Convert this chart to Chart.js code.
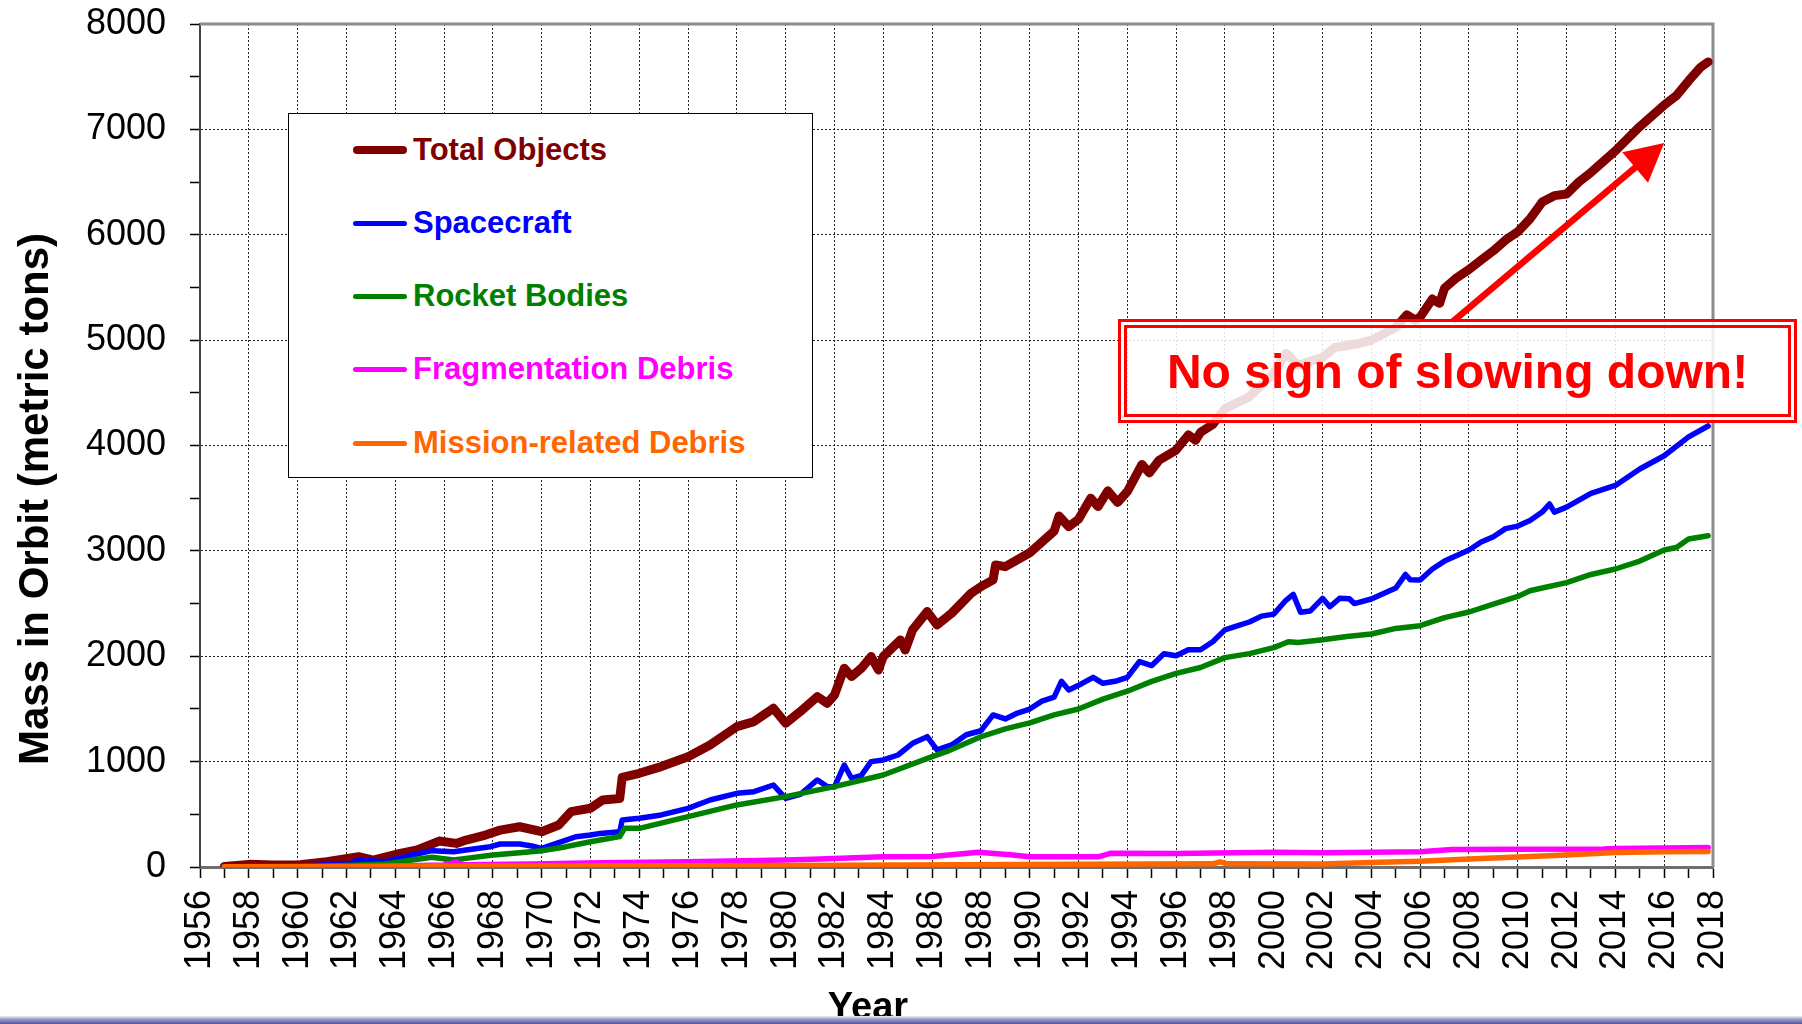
<!DOCTYPE html>
<html>
<head>
<meta charset="utf-8">
<title>Mass in Orbit</title>
<script src="https://cdn.jsdelivr.net/npm/chart.js@4.4.1/dist/chart.umd.min.js"></script>
<style>
  html, body { margin: 0; padding: 0; background: #fff; overflow: hidden; }
  #wrap { position: relative; width: 1802px; height: 1024px; font-family: "Liberation Sans", Arial, sans-serif; }
  #chart { position: absolute; left: 0; top: 0; }
  #legend {
    position: absolute; left: 288px; top: 113px; width: 525px; height: 365px;
    box-sizing: border-box; border: 1.5px solid #000; background: #fff;
  }
  .lg-item { position: absolute; left: 64px; height: 40px; display: flex; align-items: center; }
  .lg-line { width: 54px; border-radius: 4px; }
  .lg-text { margin-left: 6px; font-weight: bold; font-size: 31px; white-space: nowrap; }
  #note {
    position: absolute; left: 1118px; top: 319px; width: 679px; height: 104px;
    box-sizing: border-box; border: 3px solid #ff0000; padding: 3px;
    background: rgba(255, 255, 255, 0.86);
  }
  #note div {
    box-sizing: border-box; width: 100%; height: 100%; border: 3px solid #ff0000;
    display: flex; align-items: center; justify-content: center;
    color: #ff0000; font-weight: bold; font-size: 48px; white-space: nowrap;
  }
  #band {
    position: absolute; left: 0; top: 1016px; width: 1802px; height: 8px;
    background: linear-gradient(to bottom, #eef0f7 0%, #a3a6d0 35%, #4d5299 100%);
  }
</style>
</head>
<body>
<div id="wrap">
  <canvas id="chart" width="1802" height="1024"></canvas>
  <div id="legend"></div>
  <div id="note"><div>No sign of slowing down!</div></div>
  <div id="band"></div>
</div>
<script>
// series names, in legend order
var seriesNames = ["Total Objects", "Spacecraft", "Rocket Bodies", "Fragmentation Debris", "Mission-related Debris"];

// axis ticks
var yearTicks = [1956, 1957, 1958, 1959, 1960, 1961, 1962, 1963, 1964, 1965, 1966, 1967, 1968, 1969, 1970,
  1971, 1972, 1973, 1974, 1975, 1976, 1977, 1978, 1979, 1980, 1981, 1982, 1983, 1984, 1985, 1986, 1987,
  1988, 1989, 1990, 1991, 1992, 1993, 1994, 1995, 1996, 1997, 1998, 1999, 2000, 2001, 2002, 2003, 2004,
  2005, 2006, 2007, 2008, 2009, 2010, 2011, 2012, 2013, 2014, 2015, 2016, 2017, 2018];
var massTicks = [0, 500, 1000, 1500, 2000, 2500, 3000, 3500, 4000, 4500, 5000, 5500, 6000, 6500, 7000, 7500, 8000];

// Total Objects (metric tons)
var totalYears = [
  1957.0, 1958.0, 1959.0, 1960.1, 1961.2, 1962.5, 1963.1, 1964.2, 1964.9, 1965.8,
  1966.5, 1966.9, 1967.7, 1968.3, 1969.1, 1970.0, 1970.7, 1971.2, 1972.0, 1972.5,
  1973.2, 1973.3, 1974.0, 1974.9, 1976.0, 1976.9, 1978.0, 1978.7, 1979.5, 1980.0,
  1980.6, 1981.3, 1981.7, 1982.0, 1982.4, 1982.7, 1983.1, 1983.5, 1983.8, 1984.0,
  1984.7, 1984.9, 1985.2, 1985.8, 1986.2, 1986.8, 1987.6, 1988.0, 1988.5, 1988.6,
  1989.0, 1990.0, 1991.0, 1991.2, 1991.6, 1992.0, 1992.5, 1992.8, 1993.2, 1993.6,
  1994.0, 1994.6, 1994.9, 1995.3, 1996.0, 1996.5, 1996.8, 1997.0, 1997.5, 1998.0,
  1999.0, 2000.0, 2000.5, 2001.0, 2002.0, 2002.5, 2003.5, 2004.0, 2005.0, 2005.45,
  2005.8, 2006.0, 2006.5, 2006.8, 2007.0, 2007.5, 2008.0, 2008.5, 2009.0, 2009.5,
  2010.0, 2010.5, 2011.0, 2011.5, 2012.0, 2012.5, 2013.0, 2014.0, 2015.0, 2016.0,
  2016.5, 2017.0, 2017.5, 2017.8];
var totalMass = [
  5, 25, 20, 22, 50, 98, 66, 129, 161, 246,
  224, 256, 303, 350, 382, 335, 399, 525, 557, 636,
  650, 850, 889, 953, 1047, 1158, 1332, 1380, 1506, 1364,
  1475, 1617, 1554, 1633, 1886, 1807, 1886, 1997, 1870, 1997,
  2155, 2060, 2250, 2424, 2297, 2408, 2598, 2661, 2725, 2867,
  2850, 2982, 3188, 3330, 3230, 3300, 3500, 3420, 3570, 3460,
  3563, 3820, 3740, 3860, 3957, 4100, 4050, 4125, 4200, 4350,
  4462, 4687, 4875, 4762, 4837, 4930, 4968, 5000, 5120, 5240,
  5190, 5220, 5390, 5350, 5494, 5593, 5670, 5760, 5848, 5950,
  6028, 6150, 6310, 6371, 6386, 6500, 6591, 6796, 7027, 7231,
  7320, 7461, 7591, 7640];

// Spacecraft
var spacecraftYears = [
  1957.0, 1960.0, 1962.2, 1962.5, 1963.6, 1964.7, 1965.5, 1966.4, 1966.9, 1967.9,
  1968.3, 1969.1, 1969.6, 1970.0, 1971.0, 1971.4, 1972.0, 1972.4, 1973.2, 1973.3,
  1974.0, 1974.9, 1976.0, 1976.9, 1978.0, 1978.7, 1979.5, 1980.0, 1980.6, 1981.3,
  1981.7, 1982.0, 1982.4, 1982.7, 1983.1, 1983.5, 1984.0, 1984.6, 1985.2, 1985.8,
  1986.2, 1986.8, 1987.4, 1988.0, 1988.5, 1989.0, 1989.5, 1990.0, 1990.5, 1991.0,
  1991.3, 1991.6, 1992.0, 1992.6, 1993.0, 1993.5, 1994.0, 1994.5, 1995.0, 1995.5,
  1996.0, 1996.5, 1997.0, 1997.5, 1998.0, 1998.5, 1999.0, 1999.5, 2000.0, 2000.5,
  2000.8, 2001.1, 2001.5, 2002.0, 2002.3, 2002.7, 2003.1, 2003.3, 2004.0, 2005.0,
  2005.4, 2005.6, 2006.0, 2006.5, 2007.0, 2007.5, 2008.0, 2008.5, 2009.0, 2009.5,
  2010.0, 2010.5, 2011.0, 2011.3, 2011.5, 2012.0, 2013.0, 2014.0, 2015.0, 2016.0,
  2017.0, 2017.8];
var spacecraftMass = [
  2, 5, 35, 66, 50, 114, 155, 145, 161, 193,
  218, 218, 199, 177, 256, 287, 304, 319, 335, 446,
  462, 494, 557, 636, 699, 715, 778, 652, 690, 826,
  763, 760, 968, 842, 870, 1000, 1016, 1063, 1174, 1237,
  1111, 1158, 1255, 1293, 1443, 1405, 1461, 1499, 1574, 1612,
  1762, 1680, 1724, 1800, 1743, 1762, 1800, 1950, 1912, 2024,
  2005, 2062, 2062, 2137, 2250, 2288, 2325, 2381, 2400, 2531,
  2587, 2418, 2430, 2550, 2470, 2550, 2546, 2500, 2543, 2647,
  2776, 2725, 2723, 2828, 2903, 2956, 3008, 3084, 3134, 3211,
  3235, 3288, 3368, 3445, 3368, 3415, 3545, 3621, 3777, 3903,
  4082, 4185];

// Rocket Bodies
var rocketYears = [
  1957.0, 1960.0, 1962.0, 1963.6, 1964.7, 1965.5, 1966.4, 1966.9, 1968.0, 1969.1,
  1970.0, 1971.0, 1972.0, 1972.4, 1973.2, 1973.4, 1974.0, 1976.0, 1978.0, 1980.0,
  1982.0, 1984.0, 1986.0, 1986.7, 1988.0, 1989.0, 1990.0, 1991.0, 1992.0, 1993.0,
  1994.0, 1995.0, 1996.0, 1997.0, 1998.0, 1999.0, 2000.0, 2000.6, 2001.0, 2002.0,
  2003.0, 2004.0, 2005.0, 2006.0, 2007.0, 2008.0, 2009.0, 2010.0, 2010.5, 2011.0,
  2012.0, 2013.0, 2014.0, 2015.0, 2016.0, 2016.5, 2017.0, 2017.8];
var rocketMass = [
  3, 5, 15, 28, 66, 92, 66, 82, 114, 136,
  155, 193, 240, 256, 288, 367, 367, 478, 589, 668,
  763, 873, 1047, 1105, 1236, 1311, 1368, 1443, 1499, 1593,
  1668, 1762, 1837, 1893, 1987, 2025, 2082, 2138, 2130, 2157,
  2187, 2211, 2264, 2290, 2367, 2420, 2495, 2568, 2622, 2648,
  2699, 2776, 2828, 2903, 3008, 3032, 3112, 3144];

// Fragmentation Debris
var fragYears = [1957.0, 1961.0, 1963.0, 1966.0, 1966.5, 1966.8, 1969.6, 1972.4, 1976.0, 1980.0,
  1981.1, 1984.0, 1986.0, 1987.9, 1989.2, 1990.0, 1992.8, 1993.3, 1996.0, 2000.0,
  2002.0, 2006.0, 2007.3, 2010.0, 2013.5, 2014.0, 2016.0, 2017.8];
var fragMass = [0, 2, 5, 19, 45, 22, 28, 41, 50, 66,
  73, 98, 100, 140, 116, 97, 97, 130, 127, 140,
  135, 145, 165, 168, 172, 176, 180, 185];

// Mission-related Debris
var missionYears = [1957.0, 1962.0, 1966.0, 1972.0, 1980.0, 1987.0, 1997.5, 1997.8, 1998.1, 2002.0,
  2004.0, 2006.0, 2008.0, 2010.0, 2012.0, 2014.0, 2016.0, 2017.8];
var missionMass = [2, 5, 10, 10, 15, 22, 30, 48, 30, 28,
  42, 55, 76, 95, 114, 138, 145, 147];

// annotation arrow, in data coordinates (year, tons)
var arrowFrom = [2007.35, 5180];
var arrowTo = [2016.0, 6870];

var seriesColors = ["#800000", "#0000ff", "#008000", "#ff00ff", "#ff6600"];
var seriesWidths = [9, 5.5, 5.5, 5.5, 5.5];

function toPoints(xs, ys) {
  return xs.map(function (x, i) { return { x: x, y: ys[i] }; });
}

var seriesData = [
  toPoints(totalYears, totalMass),
  toPoints(spacecraftYears, spacecraftMass),
  toPoints(rocketYears, rocketMass),
  toPoints(fragYears, fragMass),
  toPoints(missionYears, missionMass)
];

var FONT = '"Liberation Sans", Arial, sans-serif';
Chart.defaults.font.family = FONT;
Chart.defaults.color = "#000";

// top and right frame of the plot area
var framePlugin = {
  id: "frame",
  beforeDatasetsDraw: function (chart) {
    var a = chart.chartArea, ctx = chart.ctx;
    ctx.save();
    ctx.strokeStyle = "#8c8c8c";
    ctx.lineWidth = 3;
    ctx.beginPath();
    ctx.moveTo(a.left, a.top);
    ctx.lineTo(a.right, a.top);
    ctx.lineTo(a.right, a.bottom);
    ctx.stroke();
    ctx.restore();
  }
};

var arrowPlugin = {
  id: "arrow",
  afterDatasetsDraw: function (chart) {
    var xs = chart.scales.x, ys = chart.scales.y, ctx = chart.ctx;
    var x1 = xs.getPixelForValue(arrowFrom[0]), y1 = ys.getPixelForValue(arrowFrom[1]);
    var x2 = xs.getPixelForValue(arrowTo[0]), y2 = ys.getPixelForValue(arrowTo[1]);
    var ang = Math.atan2(y2 - y1, x2 - x1);
    var c = Math.cos(ang), s = Math.sin(ang);
    var headLen = 38, headHalf = 20;
    var bx = x2 - headLen * c, by = y2 - headLen * s;
    ctx.save();
    ctx.strokeStyle = "#ff0000";
    ctx.fillStyle = "#ff0000";
    ctx.lineWidth = 6.5;
    ctx.beginPath();
    ctx.moveTo(x1, y1);
    ctx.lineTo(bx + 4 * c, by + 4 * s);
    ctx.stroke();
    ctx.beginPath();
    ctx.moveTo(x2, y2);
    ctx.lineTo(bx - headHalf * s, by + headHalf * c);
    ctx.lineTo(bx + headHalf * s, by - headHalf * c);
    ctx.closePath();
    ctx.fill();
    ctx.restore();
  }
};

// axis titles (placed as in the original slide)
var titlePlugin = {
  id: "titles",
  afterDraw: function (chart) {
    var ctx = chart.ctx;
    ctx.save();
    ctx.fillStyle = "#000";
    ctx.font = "bold 42px " + FONT;
    ctx.textAlign = "center";
    ctx.textBaseline = "alphabetic";
    ctx.translate(48, 499);
    ctx.rotate(-Math.PI / 2);
    ctx.fillText("Mass in Orbit (metric tons)", 0, 0);
    ctx.restore();

    ctx.save();
    ctx.fillStyle = "#000";
    ctx.font = "bold 38px " + FONT;
    ctx.textAlign = "center";
    ctx.textBaseline = "alphabetic";
    ctx.fillText("Year", 868, 1019);
    ctx.restore();
  }
};

var datasets = seriesNames.map(function (name, i) {
  return {
    label: name,
    data: seriesData[i],
    borderColor: seriesColors[i],
    backgroundColor: seriesColors[i],
    borderWidth: seriesWidths[i],
    borderJoinStyle: "round",
    borderCapStyle: "round",
    pointRadius: 0,
    tension: 0,
    fill: false,
    order: seriesNames.length - i
  };
});

var chart = new Chart(document.getElementById("chart").getContext("2d"), {
  type: "line",
  data: { datasets: datasets },
  options: {
    responsive: false,
    devicePixelRatio: 1,
    animation: false,
    layout: { padding: { top: 24, right: 89, bottom: 0, left: 0 } },
    plugins: {
      legend: { display: false },
      tooltip: { enabled: false }
    },
    scales: {
      x: {
        type: "linear",
        min: 1956,
        max: 2018,
        afterBuildTicks: function (s) {
          s.ticks = yearTicks.map(function (v) { return { value: v }; });
        },
        afterFit: function (s) {
          s.height = 157;
          s.paddingLeft = 0;
          s.paddingRight = 0;
        },
        ticks: {
          autoSkip: false,
          minRotation: 90,
          maxRotation: 90,
          padding: 12,
          color: "#000",
          font: { size: 36 },
          callback: function (v) { return v % 2 === 0 ? String(v) : ""; }
        },
        grid: {
          color: function (c) {
            return c.tick && c.tick.value % 2 === 0 ? "rgba(0,0,0,0.85)" : "rgba(0,0,0,0)";
          },
          lineWidth: 1,
          tickColor: "#000",
          tickLength: 11,
          tickWidth: 1.5
        },
        border: { color: "#6e6e6e", width: 3, dash: [2, 2] }
      },
      y: {
        min: 0,
        max: 8000,
        afterBuildTicks: function (s) {
          s.ticks = massTicks.map(function (v) { return { value: v }; });
        },
        afterFit: function (s) {
          s.width = 200;
          s.paddingTop = 0;
          s.paddingBottom = 0;
        },
        ticks: {
          padding: 24,
          color: "#000",
          font: { size: 36 },
          callback: function (v) { return v % 1000 === 0 ? String(v) : ""; }
        },
        grid: {
          color: function (c) {
            return c.tick && c.tick.value % 1000 === 0 ? "rgba(0,0,0,0.85)" : "rgba(0,0,0,0)";
          },
          lineWidth: 1,
          tickColor: "#000",
          tickLength: 10,
          tickWidth: 1.5
        },
        border: { color: "#444", width: 2, dash: [2, 2] }
      }
    }
  },
  plugins: [framePlugin, arrowPlugin, titlePlugin]
});

// legend box built from the datasets
var legendEl = document.getElementById("legend");
var legendCenters = [36, 109, 182, 255, 329];
chart.data.datasets.forEach(function (ds, i) {
  var item = document.createElement("div");
  item.className = "lg-item";
  item.style.top = (legendCenters[i] - 20) + "px";
  var line = document.createElement("span");
  line.className = "lg-line";
  line.style.height = (i === 0 ? 8 : 5) + "px";
  line.style.background = ds.borderColor;
  var text = document.createElement("span");
  text.className = "lg-text";
  text.style.color = ds.borderColor;
  text.textContent = ds.label;
  item.appendChild(line);
  item.appendChild(text);
  legendEl.appendChild(item);
});
</script>
</body>
</html>
